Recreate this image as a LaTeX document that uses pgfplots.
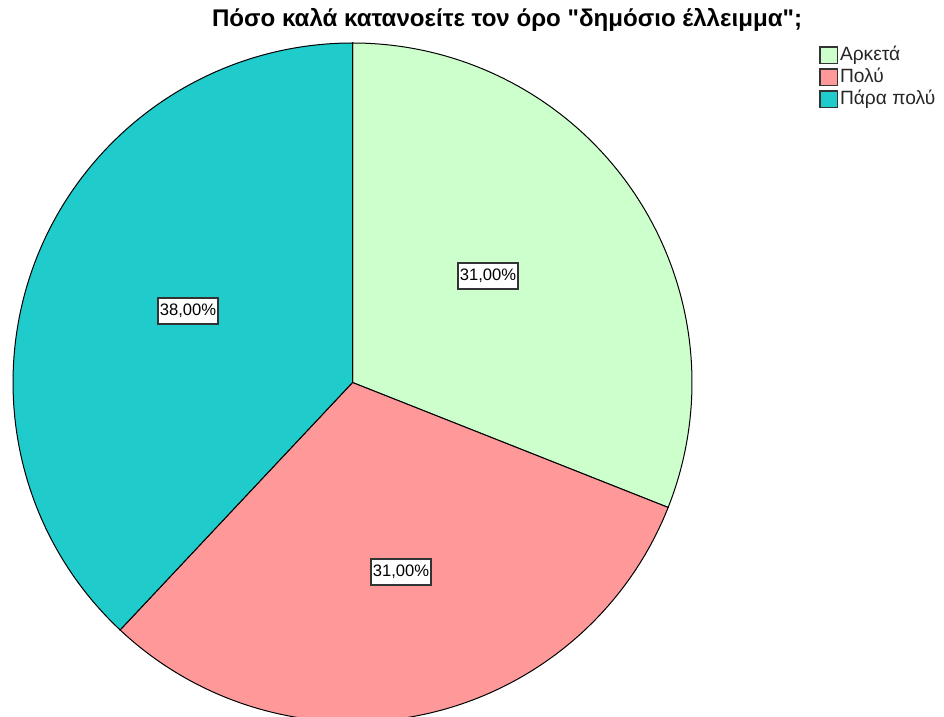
\documentclass[border=0pt]{standalone}
\usepackage{fontspec}
\setmainfont{Liberation Sans}
\newfontfamily\titlefont{Liberation Sans}
\usepackage{pgfplots}
\usepackage{pgfplotstable}
\usetikzlibrary{calc}
\pgfplotsset{compat=1.18}

\definecolor{arketa}{HTML}{CCFFCC}
\definecolor{poly}{HTML}{FF9999}
\definecolor{parapoly}{HTML}{1FCBCB}

% share of answers, in percent; lx ly = where the value label sits
\pgfplotstableread{
label value lx ly
Αρκετά 31 488 441
Πολύ 31 401 145
{Πάρα πολύ} 38 188 406
}\piedata

\begin{document}
\begin{tikzpicture}
  \pgfplotstablegetelem{0}{value}\of\piedata \let\va\pgfplotsretval
  \pgfplotstablegetelem{1}{value}\of\piedata \let\vb\pgfplotsretval
  \pgfplotstablegetelem{2}{value}\of\piedata \let\vc\pgfplotsretval
  \pgfplotstablegetelem{0}{lx}\of\piedata \let\xa\pgfplotsretval
  \pgfplotstablegetelem{1}{lx}\of\piedata \let\xb\pgfplotsretval
  \pgfplotstablegetelem{2}{lx}\of\piedata \let\xc\pgfplotsretval
  \pgfplotstablegetelem{0}{ly}\of\piedata \let\ya\pgfplotsretval
  \pgfplotstablegetelem{1}{ly}\of\piedata \let\yb\pgfplotsretval
  \pgfplotstablegetelem{2}{ly}\of\piedata \let\yc\pgfplotsretval
  % slices run clockwise from 12 o'clock
  \pgfmathsetmacro\aA{90}
  \pgfmathsetmacro\aB{\aA-3.6*\va}
  \pgfmathsetmacro\aC{\aB-3.6*\vb}
  \pgfmathsetmacro\aD{\aC-3.6*\vc}
  \def\R{169.75pt}
  \begin{axis}[
      scale only axis, width=472pt, height=358.5pt,
      xmin=0, xmax=944, ymin=0, ymax=717,
      hide axis,
      /pgf/number format/assume math mode=true,
      legend style={at={(axis cs:819,673)}, anchor=north west, draw=none, fill=none,
        font=\fontsize{9.6}{10}\selectfont, text=black!85, row sep=0pt, inner sep=0pt,
        nodes={inner xsep=1pt, inner ysep=1pt, text height=7pt, text depth=2pt}},
      legend cell align=left,
      legend image code/.code={\draw[#1, draw=black!80, line width=0.7pt] (0pt,-4.2pt) rectangle (8.6pt,4.2pt);},
      every axis legend/.append style={/tikz/every even column/.append style={column sep=0pt}},
    ]
    \addlegendimage{fill=arketa}\addlegendentry{Αρκετά}
    \addlegendimage{fill=poly}\addlegendentry{Πολύ}
    \addlegendimage{fill=parapoly}\addlegendentry{Πάρα πολύ}

    \filldraw[fill=arketa, draw=black, line width=0.5pt] (axis cs:352.5,334.5) -- ++(\aA:\R) arc[start angle=\aA, end angle=\aB, radius=\R] -- cycle;
    \filldraw[fill=poly, draw=black, line width=0.5pt] (axis cs:352.5,334.5) -- ++(\aB:\R) arc[start angle=\aB, end angle=\aC, radius=\R] -- cycle;
    \filldraw[fill=parapoly, draw=black, line width=0.5pt] (axis cs:352.5,334.5) -- ++(\aC:\R) arc[start angle=\aC, end angle=\aD, radius=\R] -- cycle;

    \tikzset{pct/.style={draw=black!80, fill=white, line width=0.7pt, inner xsep=1pt, inner ysep=0pt,
        minimum height=13pt, font=\fontsize{8.3}{9}\selectfont}}
    \node[pct] at (axis cs:\xa,\ya) {\pgfmathprintnumber[fixed, fixed zerofill, precision=2, use comma]{\va}\%};
    \node[pct] at (axis cs:\xb,\yb) {\pgfmathprintnumber[fixed, fixed zerofill, precision=2, use comma]{\vb}\%};
    \node[pct] at (axis cs:\xc,\yc) {\pgfmathprintnumber[fixed, fixed zerofill, precision=2, use comma]{\vc}\%};

    \node[font=\titlefont\bfseries\fontsize{12.05}{13}\selectfont] at (axis cs:507,697) {Πόσο καλά κατανοείτε τον όρο "δημόσιο έλλειμμα";};
  \end{axis}
  \pgfresetboundingbox
  \useasboundingbox (current axis.south west) rectangle (current axis.north east);
\end{tikzpicture}
\end{document}
